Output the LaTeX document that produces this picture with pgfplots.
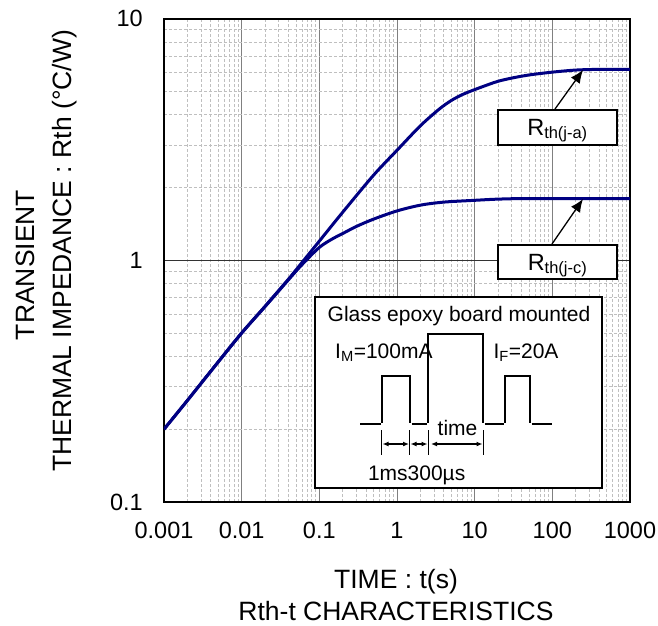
\documentclass[border=0pt]{standalone}
\usepackage{fontspec}
\setmainfont{Liberation Sans}
\usepackage{pgfplots}
\pgfplotsset{compat=1.18}
\usepackage{pgfplotstable}
\usetikzlibrary{arrows.meta}
\definecolor{curve}{RGB}{0,0,130}

\pgfplotstableread{
t r
0.001 0.200
0.002 0.263
0.005 0.380
0.01 0.500
0.02 0.645
0.04 0.835
0.06 0.98
0.1 1.20
0.2 1.58
0.5 2.25
1 2.85
2 3.60
3.5 4.22
5 4.58
7 4.85
10 5.08
15 5.33
20 5.50
30 5.67
50 5.84
100 6.00
200 6.12
400 6.16
1000 6.16
}\ja

\pgfplotstableread{
t r
0.001 0.200
0.002 0.263
0.005 0.380
0.01 0.500
0.02 0.643
0.04 0.83
0.06 0.96
0.1 1.13
0.15 1.23
0.2 1.29
0.3 1.38
0.5 1.48
1 1.60
2 1.69
4 1.74
10 1.77
20 1.79
50 1.80
1000 1.80
}\jc

\begin{document}
\begin{tikzpicture}
\useasboundingbox (-164pt,-123pt) rectangle (494pt,502pt);
\begin{axis}[
  at={(0pt,0pt)}, anchor=south west,
  scale only axis, width=466pt, height=483.5pt,
  xmode=log, ymode=log,
  xmin=0.001, xmax=1000, ymin=0.1, ymax=10,
  xtick={0.001,0.01,0.1,1,10,100,1000},
  xticklabels={0.001,0.01,0.1,1,10,100,1000},
  ytick={0.1,1,10},
  yticklabels={0.1,1,10},
  major tick length=0pt, minor tick length=0pt,
  grid=both,
  major x grid style={black!50, line width=0.9pt},
  major y grid style={black!80, line width=0.8pt},
  minor grid style={black!25, line width=0.7pt, dash pattern=on 3pt off 2pt},
  axis line style={line width=2pt},
  every tick label/.append style={inner sep=0pt, font=\fontsize{23.5}{28}\selectfont},
  xticklabel style={yshift=-20pt},
  yticklabel style={xshift=-21pt},
]
\addplot[curve, line width=3pt, smooth] table[x=t, y=r] {\ja};
\addplot[curve, line width=3pt, smooth] table[x=t, y=r] {\jc};
\end{axis}

% annotation boxes
\draw[line width=1.6pt, fill=white] (334pt,357pt) rectangle (453pt,392pt);
\node[font=\fontsize{23.5}{28}\selectfont, anchor=base] at (393.5pt,367pt) {R\textsubscript{th(j-a)}};
\draw[line width=1.3pt, -{Latex[length=13pt,width=11pt]}] (391pt,393pt) -- (419pt,432pt);

\draw[line width=1.6pt, fill=white] (334pt,223pt) rectangle (453pt,257pt);
\node[font=\fontsize{23.5}{28}\selectfont, anchor=base] at (393.5pt,232pt) {R\textsubscript{th(j-c)}};
\draw[line width=1.3pt, -{Latex[length=13pt,width=11pt]}] (388pt,258pt) -- (419pt,303pt);

% inset
\draw[line width=1.8pt, fill=white] (151pt,14pt) rectangle (438pt,205pt);
\node[font=\fontsize{21}{25}\selectfont, anchor=base] at (295pt,180.3pt) {Glass epoxy board mounted};
\node[font=\fontsize{21}{25}\selectfont, anchor=base west, inner sep=0pt] at (171pt,143.7pt) {I\textsubscript{M}=100mA};
\node[font=\fontsize{21}{25}\selectfont, anchor=base west, inner sep=0pt] at (329.3pt,143.7pt) {I\textsubscript{F}=20A};
\begin{scope}[line width=2pt]
\draw (196pt,77.7pt) -- (216.5pt,77.7pt);
\draw (218.3pt,79.5pt) -- (218.3pt,126pt) -- (246pt,126pt) -- (246pt,79.5pt);
\draw (247.5pt,77.7pt) -- (263pt,77.7pt);
\draw (264.3pt,79.5pt) -- (264.3pt,167.7pt) -- (319.3pt,167.7pt) -- (319.3pt,79.5pt);
\draw (320.8pt,77.7pt) -- (339.5pt,77.7pt);
\draw (340.7pt,79.5pt) -- (340.7pt,126pt) -- (366pt,126pt) -- (366pt,79.5pt);
\draw (367.5pt,77.7pt) -- (387.7pt,77.7pt);
\end{scope}
\begin{scope}[line width=1.4pt]
\draw (217.7pt,72pt) -- (217.7pt,47pt);
\draw (245.7pt,72pt) -- (245.7pt,47pt);
\draw (264.3pt,72pt) -- (264.3pt,47pt);
\draw (319.3pt,72pt) -- (319.3pt,47pt);
\draw[{Latex[length=6pt,width=5pt]}-{Latex[length=6pt,width=5pt]}] (218.5pt,58pt) -- (245pt,58pt);
\draw[{Latex[length=6pt,width=5pt]}-{Latex[length=6pt,width=5pt]}] (246.5pt,58pt) -- (263.5pt,58pt);
\draw[{Latex[length=6pt,width=5pt]}-{Latex[length=6pt,width=5pt]}] (267pt,58pt) -- (318.5pt,58pt);
\end{scope}
\node[font=\fontsize{21}{25}\selectfont, anchor=base] at (293.5pt,67pt) {time};
\node[font=\fontsize{21}{25}\selectfont, anchor=base] at (252.7pt,22pt) {1ms300µs};

% axis labels
\node[font=\fontsize{26.5}{33}\selectfont, anchor=base, inner sep=0pt] at (232pt,-86pt) {TIME : t(s)};
\node[font=\fontsize{26.5}{33}\selectfont, anchor=base, inner sep=0pt] at (232pt,-118pt) {Rth-t CHARACTERISTICS};
\node[font=\fontsize{26.5}{33}\selectfont, anchor=base, rotate=90] at (-129pt,237pt) {TRANSIENT};
\node[font=\fontsize{26.5}{33}\selectfont, anchor=base, rotate=90] at (-92pt,251pt) {THERMAL IMPEDANCE : Rth (°C/W)};
\end{tikzpicture}
\end{document}
